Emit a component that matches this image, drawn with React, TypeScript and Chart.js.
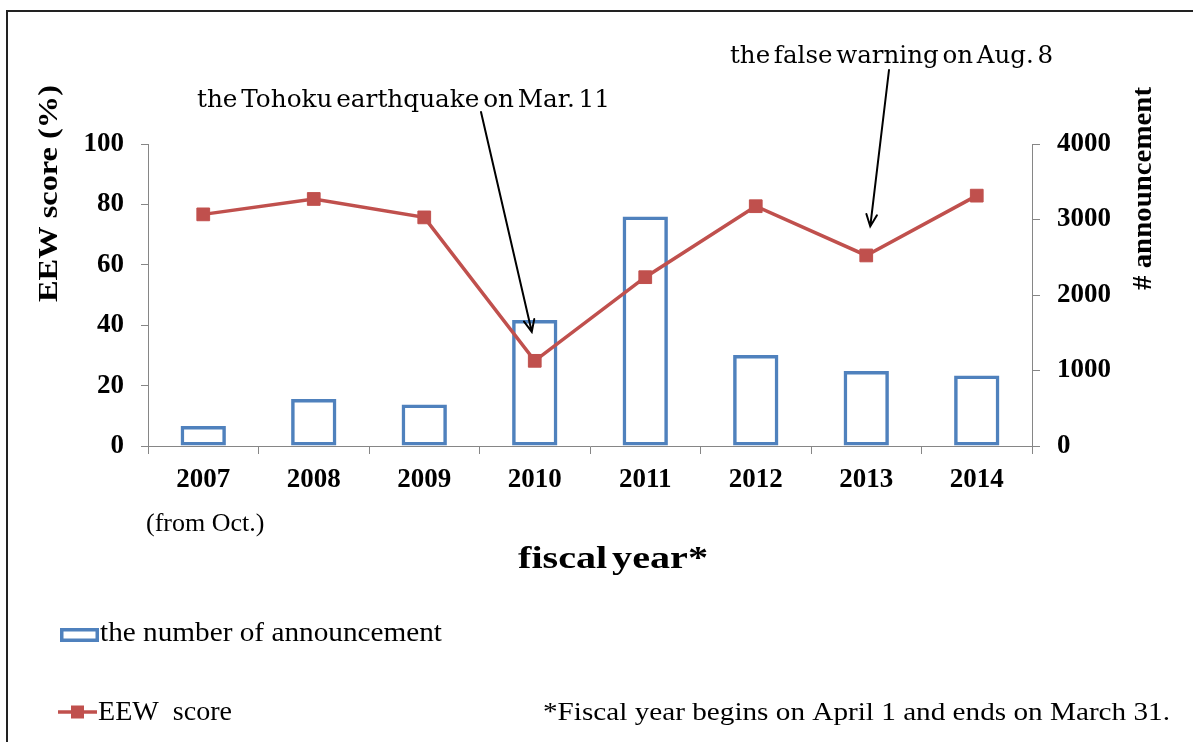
import React, { useEffect, useRef } from "react";
import { Chart, registerables } from "chart.js";

Chart.register(...registerables);

const categories = ["2007", "2008", "2009", "2010", "2011", "2012", "2013", "2014"];
const announcementCounts = [265, 622, 550, 1669, 3040, 1205, 993, 934];
const eewScores = [76.7, 81.8, 75.7, 28.2, 55.9, 79.4, 63.1, 82.9];
const leftTicks = [0, 20, 40, 60, 80, 100];
const rightTicks = [0, 1000, 2000, 3000, 4000];

const BLUE = "#4F81BD";
const RED = "#C0504D";
const AXIS = "#868686";
const SERIF = '"Liberation Serif", "Times New Roman", serif';
const CENTURY = '"DejaVu Serif", serif';

function fitText(ctx: CanvasRenderingContext2D, text: string, font: string, x1: number, x2: number, baseline: number, wordSpacing = "0px") {
  ctx.save();
  ctx.font = font;
  (ctx as any).wordSpacing = wordSpacing;
  ctx.textAlign = "left";
  ctx.textBaseline = "alphabetic";
  const w = ctx.measureText(text).width;
  ctx.translate(x1, baseline);
  ctx.scale((x2 - x1) / w, 1);
  ctx.fillStyle = "#000";
  ctx.fillText(text, 0, 0);
  ctx.restore();
}

function fitTextUp(ctx: CanvasRenderingContext2D, text: string, font: string, baselineX: number, yStart: number, yEnd: number) {
  ctx.save();
  ctx.font = font;
  ctx.textAlign = "left";
  ctx.textBaseline = "alphabetic";
  const w = ctx.measureText(text).width;
  ctx.translate(baselineX, yStart);
  ctx.rotate(-Math.PI / 2);
  ctx.scale((yStart - yEnd) / w, 1);
  ctx.fillStyle = "#000";
  ctx.fillText(text, 0, 0);
  ctx.restore();
}

function arrow(ctx: CanvasRenderingContext2D, x0: number, y0: number, x1: number, y1: number) {
  const ang = Math.atan2(y1 - y0, x1 - x0);
  const len = 13;
  const spread = 0.42;
  ctx.save();
  ctx.strokeStyle = "#000";
  ctx.lineWidth = 2;
  ctx.lineCap = "round";
  ctx.beginPath();
  ctx.moveTo(x0, y0);
  ctx.lineTo(x1, y1);
  ctx.moveTo(x1 - len * Math.cos(ang - spread), y1 - len * Math.sin(ang - spread));
  ctx.lineTo(x1, y1);
  ctx.lineTo(x1 - len * Math.cos(ang + spread), y1 - len * Math.sin(ang + spread));
  ctx.stroke();
  ctx.restore();
}

const decorPlugin = {
  id: "decor",
  afterDraw(chart: any) {
    const ctx: CanvasRenderingContext2D = chart.ctx;
    const xs = chart.scales.x;
    const ys = chart.scales.y;

    // outer frame
    ctx.save();
    ctx.strokeStyle = "#222";
    ctx.lineWidth = 2;
    ctx.beginPath();
    ctx.moveTo(7, 742);
    ctx.lineTo(7, 11);
    ctx.lineTo(1193, 11);
    ctx.stroke();
    ctx.restore();

    // axis titles
    fitTextUp(ctx, "EEW score (%)", `bold 27px ${SERIF}`, 57, 302, 85);
    fitTextUp(ctx, "# announcement", `bold 27px ${SERIF}`, 1151, 290, 87);
    fitText(ctx, "fiscal year*", `bold 31px ${SERIF}`, 518, 708, 568, "-4px");

    // sub label under 2007
    ctx.save();
    ctx.font = `26px ${SERIF}`;
    ctx.fillStyle = "#000";
    ctx.textAlign = "center";
    ctx.textBaseline = "alphabetic";
    ctx.fillText("(from Oct.)", xs.getPixelForValue(0) + 2, 531);
    ctx.restore();

    // annotations
    fitText(ctx, "the Tohoku earthquake on Mar. 11", `24px ${CENTURY}`, 197, 610, 107, "-4px");
    fitText(ctx, "the false warning on Aug. 8", `24px ${CENTURY}`, 730, 1053, 63, "-4px");
    const p2010x = xs.getPixelForValue(3);
    const p2010y = ys.getPixelForValue(eewScores[3]);
    arrow(ctx, 481, 112, p2010x - 3, p2010y - 29);
    const p2013x = xs.getPixelForValue(6);
    const p2013y = ys.getPixelForValue(eewScores[6]);
    arrow(ctx, 889, 70, p2013x + 4, p2013y - 29);

    // legend
    ctx.save();
    ctx.strokeStyle = BLUE;
    ctx.lineWidth = 3.5;
    ctx.strokeRect(61.75, 629.75, 35.5, 10.5);
    ctx.strokeStyle = RED;
    ctx.lineWidth = 3.5;
    ctx.beginPath();
    ctx.moveTo(58, 712);
    ctx.lineTo(97, 712);
    ctx.stroke();
    ctx.fillStyle = RED;
    ctx.fillRect(71, 705.5, 13, 13);
    ctx.restore();
    fitText(ctx, "the number of announcement", `28px ${SERIF}`, 100, 442, 641);
    fitText(ctx, "EEW  score", `28px ${SERIF}`, 98, 232, 720);
    fitText(ctx, "*Fiscal year begins on April 1 and ends on March 31.", `26px ${SERIF}`, 543, 1170, 720);
  },
};

export default function App() {
  const ref = useRef<HTMLCanvasElement | null>(null);

  useEffect(() => {
    if (!ref.current) return;
    const tickFont = { family: SERIF, size: 27, weight: "bold" as const };
    const plain = (v: any) => String(v);
    const chart = new Chart(ref.current, {
      type: "bar",
      data: {
        labels: categories,
        datasets: [
          {
            type: "line" as const,
            label: "EEW score",
            data: eewScores,
            yAxisID: "y",
            borderColor: RED,
            backgroundColor: RED,
            borderWidth: 3.5,
            pointStyle: "rect",
            pointRadius: 9,
            pointBorderWidth: 1,
            pointBackgroundColor: RED,
            pointBorderColor: RED,
            tension: 0,
            order: 0,
          },
          {
            type: "bar" as const,
            label: "the number of announcement",
            data: announcementCounts,
            yAxisID: "y1",
            borderColor: BLUE,
            backgroundColor: "rgba(255,255,255,0)",
            borderWidth: 3.5,
            borderSkipped: false,
            barPercentage: 0.41,
            categoryPercentage: 1,
            order: 1,
          },
        ] as any,
      },
      options: {
        responsive: false,
        animation: false,
        devicePixelRatio: 1,
        layout: { padding: { left: 0, right: 0, top: 144, bottom: 236 } },
        plugins: { legend: { display: false }, tooltip: { enabled: false } },
        scales: {
          x: {
            offset: true,
            grid: { display: true, drawOnChartArea: false, drawTicks: true, tickLength: 8, color: AXIS, offset: true },
            border: { display: true, color: AXIS, width: 1 },
            ticks: { font: tickFont, color: "#000", padding: 10, maxRotation: 0, autoSkip: false },
            afterFit: (s: any) => { s.height = 60; },
          },
          y: {
            position: "left",
            min: 0,
            max: 100,
            afterBuildTicks: (s: any) => { s.ticks = leftTicks.map((v) => ({ value: v })); },
            grid: { drawOnChartArea: false, drawTicks: true, tickLength: 7, color: AXIS },
            border: { display: true, color: AXIS, width: 1 },
            ticks: { font: tickFont, color: "#000", padding: 17, callback: plain },
            afterFit: (s: any) => { s.width = 148; },
          },
          y1: {
            position: "right",
            min: 0,
            max: 4000,
            afterBuildTicks: (s: any) => { s.ticks = rightTicks.map((v) => ({ value: v })); },
            grid: { drawOnChartArea: false, drawTicks: true, tickLength: 8, color: AXIS },
            border: { display: true, color: AXIS, width: 1 },
            ticks: { font: tickFont, color: "#000", padding: 17, callback: plain },
            afterFit: (s: any) => { s.width = 161; },
          },
        },
      } as any,
      plugins: [decorPlugin],
    });
    return () => chart.destroy();
  }, []);

  return (
    <div style={{ position: "absolute", left: 0, top: 0, width: 1193, height: 742, background: "#fff", overflow: "hidden" }}>
      <canvas ref={ref} width={1193} height={742} style={{ width: 1193, height: 742, display: "block" }} />
    </div>
  );
}
